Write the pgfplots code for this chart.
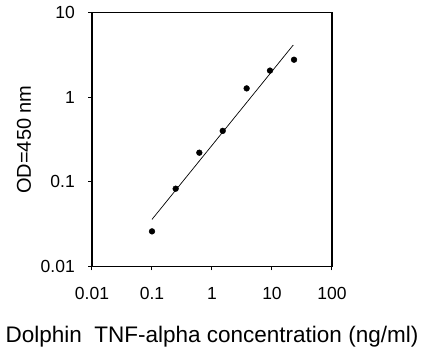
\documentclass[border=0pt]{standalone}
\usepackage{pgfplots}
\pgfplotsset{compat=1.18}
\usepackage{fontspec}
\setmainfont{Liberation Sans}
\begin{document}
\begin{tikzpicture}
\path (-92pt,-90.5pt) rectangle (333pt,266.5pt);
\begin{axis}[
  at={(0pt,0pt)}, anchor=south west,
  scale only axis, width=240pt, height=254pt,
  xmode=log, ymode=log,
  xmin=0.01, xmax=100, ymin=0.01, ymax=10,
  xtick={0.01,0.1,1,10,100}, xticklabels={0.01,0.1,1,10,100},
  ytick={0.01,0.1,1,10}, yticklabels={0.01,0.1,1,10},
  xminorticks=false, yminorticks=false,
  tick align=outside, xtick pos=bottom, ytick pos=left,
  major tick length=4pt,
  axis line style={line width=1.2pt},
  every tick/.style={black, line width=1pt},
  /pgf/number format/assume math mode=true,
  tick label style={font=\fontsize{17.5pt}{20pt}\selectfont},
  xticklabel style={anchor=base, inner sep=0pt, yshift=-29pt},
  yticklabel style={anchor=east, inner sep=0pt, xshift=-13pt},
  xlabel={Dolphin\ \ TNF-alpha concentration (ng/ml)},
  ylabel={OD=450 nm},
  xlabel style={font=\fontsize{22.5pt}{26pt}\selectfont, at={(axis description cs:0.5,-0.301)}, anchor=base, inner sep=0pt},
  ylabel style={font=\fontsize{20pt}{24pt}\selectfont, at={(axis description cs:-0.283,0.5)}, anchor=center, inner sep=0pt},
]
\addplot[only marks, mark=*, mark size=2.9pt, black] coordinates {
 (0.1,0.026) (0.248,0.083) (0.615,0.221) (1.51,0.40) (3.78,1.27) (9.26,2.06) (23.3,2.77)
};
\addplot[black, line width=0.7pt] coordinates {(0.1,0.036) (22.6,4.13)};
\end{axis}
\end{tikzpicture}
\end{document}
